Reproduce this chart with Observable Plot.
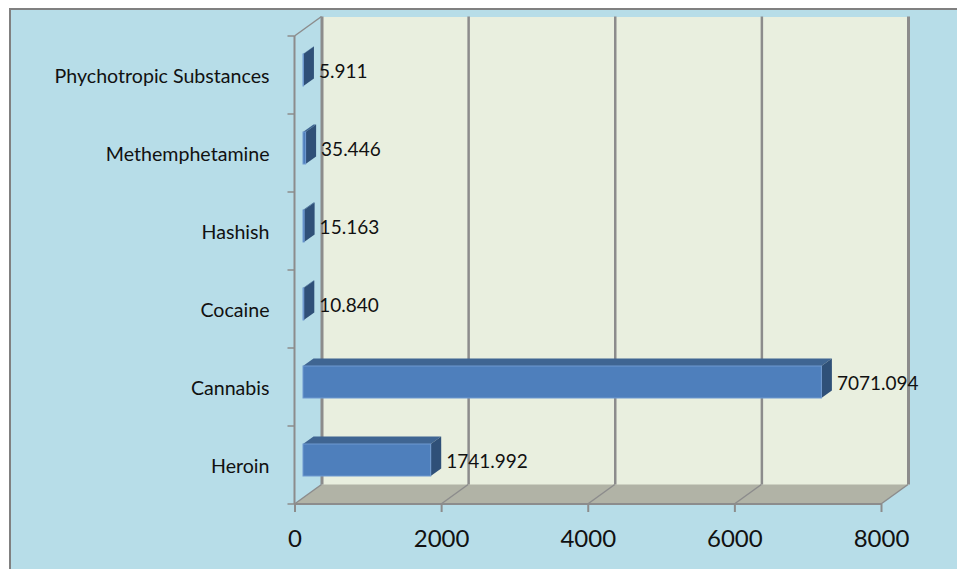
<!DOCTYPE html>
<html>
<head>
<meta charset="utf-8">
<script src="https://cdn.jsdelivr.net/npm/d3@7"></script>
<script src="https://cdn.jsdelivr.net/npm/@observablehq/plot@0.6"></script>
<style>
html,body{margin:0;padding:0;background:#fff;width:957px;height:569px;overflow:hidden}
#panel{position:absolute;left:9px;top:8px;width:948px;height:561px;box-sizing:border-box;background:#b7dde8;border-left:2px solid #808080;border-top:2px solid #808080}
#chart{position:absolute;left:0;top:0}
#chart svg{background:transparent;display:block}
</style>
</head>
<body>
<div id="panel"></div>
<div id="chart"></div>
<script>
const categories = ["Phychotropic Substances","Methemphetamine","Hashish","Cocaine","Cannabis","Heroin"];
const values = [5.911,35.446,15.163,10.840,7071.094,1741.992];
const xTicks = [0,2000,4000,6000,8000];
const table = categories.map((c,i)=>({category:c,value:values[i]}));

const font = "Lato, 'Open Sans', sans-serif";
const gray = "#8c8c8c";
const wall = {dx:27, dy:-19.5};
const bar = {dx:8.5, dy:-5, depthX:10.5, depthY:-7.5};

function svgEl(name, attrs){
  const e = document.createElementNS("http://www.w3.org/2000/svg", name);
  for (const k in attrs) e.setAttribute(k, attrs[k]);
  return e;
}
const poly = pts => pts.map(p=>p.join(",")).join(" ");
const bandwidthOf = s => typeof s.bandwidth === "function" ? s.bandwidth() : s.bandwidth;

// floor, wall edges and diagonal gridlines, positioned from the scales
function floorMark(index, scales, values, dims){
  const g = svgEl("g",{});
  const x0 = scales.x(0), x1 = scales.x(8000), yb = dims.height-dims.marginBottom, yt = dims.marginTop;
  g.append(svgEl("polygon",{points:poly([[x0,yb],[x1,yb],[x1+wall.dx,yb+wall.dy],[x0+wall.dx,yb+wall.dy]]),fill:"#b1b3a6"}));
  for (const t of xTicks){
    const x = scales.x(t);
    g.append(svgEl("line",{x1:x,y1:yb,x2:x+wall.dx,y2:yb+wall.dy,stroke:gray,"stroke-width":1.5}));
  }
  g.append(svgEl("line",{x1:x0,y1:yt,x2:x0+wall.dx,y2:yt+wall.dy,stroke:gray,"stroke-width":1.5}));
  return g;
}
function frontAxes(index, scales, values, dims){
  const g = svgEl("g",{});
  const x0 = scales.x(0), x1 = scales.x(8000), yb = dims.height-dims.marginBottom, yt = dims.marginTop;
  g.append(svgEl("line",{x1:x0,y1:yt,x2:x0,y2:yb,stroke:gray,"stroke-width":2}));
  g.append(svgEl("line",{x1:x0,y1:yb,x2:x1,y2:yb,stroke:gray,"stroke-width":2}));
  const step = (yb-yt)/categories.length;
  const gap = (step-bandwidthOf(scales.y))/2;
  const ends = categories.map(c=>scales.y(c)-gap).concat([yb]);
  for (const y of ends) g.append(svgEl("line",{x1:x0-7,y1:y,x2:x0,y2:y,stroke:gray,"stroke-width":1.5}));
  return g;
}
function barDepth(index, scales){
  const g = svgEl("g",{});
  const h = bandwidthOf(scales.y);
  for (const d of table){
    const xa = scales.x(0)+bar.dx, xb = scales.x(d.value)+bar.dx, y = scales.y(d.category)+bar.dy;
    g.append(svgEl("polygon",{points:poly([[xa,y],[xb,y],[xb+bar.depthX,y+bar.depthY],[xa+bar.depthX,y+bar.depthY]]),fill:"#3f6592"}));
    g.append(svgEl("polygon",{points:poly([[xb,y],[xb+bar.depthX,y+bar.depthY],[xb+bar.depthX,y+h+bar.depthY],[xb,y+h]]),fill:"#2f5078"}));
  }
  return g;
}

const plot = Plot.plot({
  width:957, height:569,
  marginLeft:294.5, marginRight:76, marginTop:36, marginBottom:65,
  style:{fontFamily:font, background:"transparent", color:"#111", overflow:"visible"},
  x:{domain:[0,8000], label:null},
  y:{domain:categories, label:null, paddingInner:0.59, paddingOuter:0.295},
  marks:[
    Plot.frame({fill:"#e9efdf", stroke:null, dx:wall.dx, dy:wall.dy}),
    floorMark,
    Plot.ruleX(xTicks,{x:d=>d, dx:wall.dx, dy:wall.dy, stroke:gray, strokeWidth:d=>d===0||d===8000?3:2.5}),
    frontAxes,
    Plot.axisX({ticks:xTicks, tickSize:8, tickPadding:17, fontSize:24, stroke:gray, strokeWidth:2, color:"#111", tickFormat:d=>String(d), label:null}),
    Plot.axisY({tickSize:0, tickPadding:25.5, fontSize:19.6, color:"#111", label:null, dy:1}),
    barDepth,
    Plot.barX(table,{x:"value", y:"category", dx:bar.dx, dy:bar.dy, fill:"#4e7fbc", stroke:"#6f9ad0", strokeWidth:1}),
    Plot.text(table,{x:"value", y:"category", text:d=>d.value.toFixed(3), textAnchor:"start", dx:bar.dx+15, dy:bar.dy+1, fontSize:19, fill:"#111"})
  ]
});
document.getElementById("chart").append(plot);
</script>
</body>
</html>
